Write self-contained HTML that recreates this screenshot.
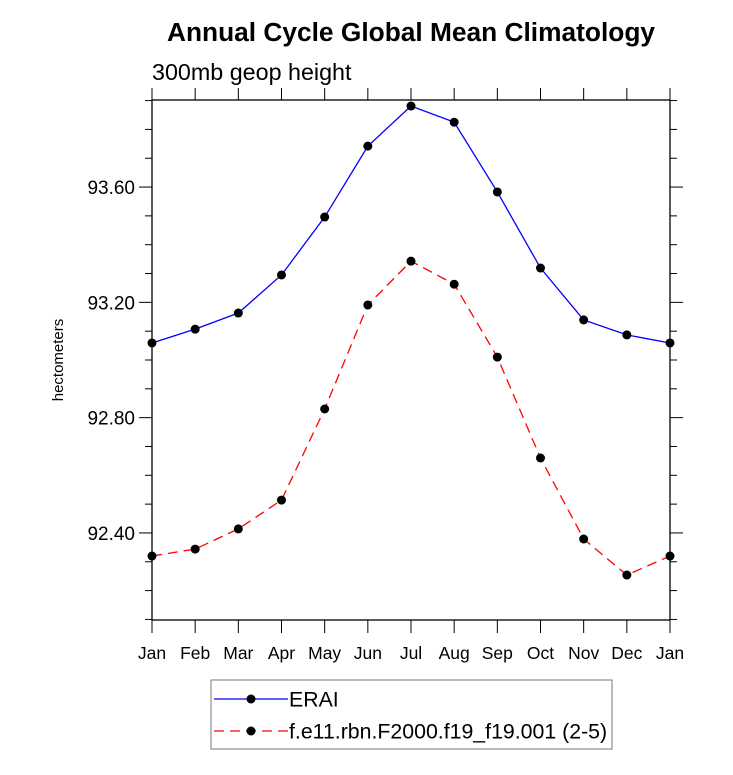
<!DOCTYPE html>
<html><head><meta charset="utf-8"><style>
body{margin:0;background:#fff}
svg text{font-family:"Liberation Sans",sans-serif}
</style></head><body>
<svg id="c" width="733" height="770" xmlns="http://www.w3.org/2000/svg">
<text x="411" y="41" font-size="26.3" font-weight="bold" text-anchor="middle">Annual Cycle Global Mean Climatology</text>
<text x="152" y="80" font-size="23.3">300mb geop height</text>
<text transform="translate(63,360) rotate(-90)" font-size="15" text-anchor="middle">hectometers</text>
<g id="axes"></g><g id="series"></g>
<g>
<rect x="211" y="680" width="401" height="69" fill="none" stroke="#777" stroke-width="1"/>
<line x1="214" y1="699" x2="288" y2="699" stroke="#0000ff" stroke-width="1.3"/>
<circle cx="251" cy="699" r="4.5" fill="#000"/>
<text x="289" y="706.5" font-size="21.3">ERAI</text>
<line x1="214" y1="731" x2="288" y2="731" stroke="#ff0000" stroke-width="1.3" stroke-dasharray="10,6"/>
<circle cx="251" cy="731" r="4.5" fill="#000"/>
<text x="289" y="738.5" font-size="21.3">f.e11.rbn.F2000.f19_f19.001 (2-5)</text>
</g>
</svg>
<script>
const months=["Jan","Feb","Mar","Apr","May","Jun","Jul","Aug","Sep","Oct","Nov","Dec","Jan"];
const eraiValues=[93.059,93.107,93.163,93.295,93.496,93.742,93.881,93.825,93.583,93.319,93.139,93.087,93.059];
const modelValues=[92.320,92.344,92.414,92.514,92.830,93.191,93.343,93.263,93.010,92.660,92.379,92.254,92.320];
const yTicks=[92.40,92.80,93.20,93.60];
const yMin=92.098,yMax=93.902;
const L=152,R=670,T=100,B=620;
const NS="http://www.w3.org/2000/svg";
const xs=i=>L+(R-L)*i/(months.length-1);
const ys=v=>B-(v-yMin)/(yMax-yMin)*(B-T);
function mk(tag,attrs,parent){const e=document.createElementNS(NS,tag);for(const k in attrs)e.setAttribute(k,attrs[k]);parent.appendChild(e);return e;}
const ax=document.getElementById('axes');
let fr=mk('rect',{x:L,y:T,width:R-L,height:B-T,fill:'none',stroke:'#000','stroke-width':1.3},ax);


for(let v=92.1;v<=93.9001;v+=0.1){
  const y=ys(v);const major=yTicks.some(t=>Math.abs(t-v)<1e-6);const len=major?13:7;
  mk('line',{x1:L-len,y1:y,x2:L,y2:y,stroke:'#000','stroke-width':1},ax);
  mk('line',{x1:R,y1:y,x2:R+len,y2:y,stroke:'#000','stroke-width':1},ax);
}
yTicks.forEach(t=>{const tx=mk('text',{x:L-17,y:ys(t)+7,'font-size':19,'text-anchor':'end'},ax);tx.textContent=t.toFixed(2);

});
months.forEach((m,i)=>{const x=xs(i);
  mk('line',{x1:x,y1:B,x2:x,y2:B+13,stroke:'#000','stroke-width':1},ax);
  mk('line',{x1:x,y1:T-12,x2:x,y2:T,stroke:'#000','stroke-width':1},ax);
  const tx=mk('text',{x:x,y:B+39,'font-size':17.5,'text-anchor':'middle'},ax);tx.textContent=m;
  
  });
const sg=document.getElementById('series');
function series(vals,color,dash,name){
  const pl=mk('polyline',{points:vals.map((v,i)=>xs(i)+','+ys(v)).join(' '),fill:'none',stroke:color,'stroke-width':1.3,'stroke-dasharray':dash},sg);
  
  
  vals.forEach((v,i)=>{const c=mk('circle',{cx:xs(i),cy:ys(v),r:4.5,fill:'#000'},sg);
    
    });
}
series(eraiValues,'#0000ff','none','erai');
series(modelValues,'#ff0000','10,6','model');
</script>
</body></html>
